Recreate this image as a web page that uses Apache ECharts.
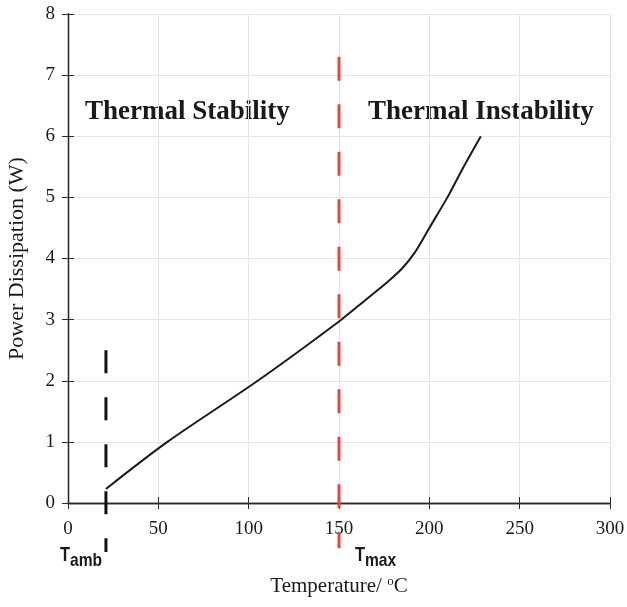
<!DOCTYPE html>
<html>
<head>
<meta charset="utf-8">
<script src="https://cdn.jsdelivr.net/npm/echarts@6/dist/echarts.min.js"></script>
<style>
  html, body { margin: 0; padding: 0; background: #fff; }
  #main { width: 627px; height: 607px; }
</style>
</head>
<body>
<div id="main"></div>
<script>
// power curve
var temperature = [21, 55, 105, 150, 165, 177, 185, 192, 200, 210, 219, 228.5];
var power = [0.23, 1.0, 2.0, 2.97, 3.33, 3.62, 3.84, 4.1, 4.5, 5.0, 5.5, 6.0];
// marker lines (they run past the x axis)
var tAmb = 21, tAmbSpan = [2.5, -0.8];
var tMax = 150, tMaxSpan = [7.3, -0.74];
var xTicks = [0, 50, 100, 150, 200, 250, 300];
var yTicks = [0, 1, 2, 3, 4, 5, 6, 7, 8];

var serif = '"Liberation Serif", "Times New Roman", serif';
var sans = '"Liberation Sans", Arial, sans-serif';
var frame = '#2b2b2b';

var myChart = echarts.init(document.getElementById('main'));

function pts(xs, ys) {
  var out = [];
  for (var i = 0; i < xs.length; i++) out.push([xs[i], ys[i]]);
  return out;
}

var sideAxis = {
  axisLine: { show: true, lineStyle: { color: frame, width: 1.3 } },
  axisTick: { show: true, inside: true, length: 6, lineStyle: { color: frame } },
  axisLabel: { show: false },
  splitLine: { show: false }
};

// T with subscript, squeezed like a narrow font
function tLabel(x, sub) {
  return {
    type: 'text', x: x, y: 545, scaleX: 0.82,
    style: {
      text: '{t|T}{s|' + sub + '}',
      rich: {
        t: { fontFamily: sans, fontWeight: 'bold', fontSize: 20, fill: '#1a1a1a', verticalAlign: 'top' },
        s: { fontFamily: sans, fontWeight: 'bold', fontSize: 19, fill: '#1a1a1a', verticalAlign: 'bottom', padding: [6, 0, 0, 0] }
      }
    }
  };
}

var option = {
  animation: false,
  backgroundColor: '#fff',
  grid: { left: 68, right: 17, top: 14, bottom: 104, outerBoundsMode: 'none' },
  xAxis: [{
    type: 'value', min: 0, max: 300, interval: 50, position: 'bottom',
    name: 'Temperature/ {sup|o}C', nameLocation: 'middle', nameGap: 72,
    nameTextStyle: {
      fontFamily: serif, fontSize: 21, color: '#1a1a1a',
      rich: { sup: { fontFamily: serif, fontSize: 13, color: '#1a1a1a', verticalAlign: 'top', padding: [0, 0, 9, 0] } }
    },
    axisLine: { show: true, lineStyle: { color: frame, width: 1.3 } },
    axisTick: { show: true, inside: true, length: 6, lineStyle: { color: frame } },
    axisLabel: { fontFamily: serif, fontSize: 19, color: '#1a1a1a', margin: 17,
      formatter: function (v) { return xTicks.indexOf(v) >= 0 ? String(v) : ''; } },
    splitLine: { show: true, lineStyle: { color: '#e4e4e4', width: 1 } }
  }, echarts.util.merge({ type: 'value', min: 0, max: 300, interval: 50, position: 'top' }, sideAxis, true)],
  yAxis: [{
    type: 'value', min: 0, max: 8, interval: 1, position: 'left',
    name: 'Power Dissipation (W)', nameLocation: 'middle', nameGap: 40,
    nameTextStyle: { fontFamily: serif, fontSize: 22, color: '#1a1a1a' },
    axisLine: { show: true, lineStyle: { color: frame, width: 1.3 } },
    axisTick: { show: true, inside: true, length: 6, lineStyle: { color: frame } },
    axisLabel: { fontFamily: serif, fontSize: 19, color: '#1a1a1a', margin: 13,
      formatter: function (v) { return yTicks.indexOf(v) >= 0 ? String(v) : ''; } },
    splitLine: { show: true, lineStyle: { color: '#e4e4e4', width: 1 } }
  }, echarts.util.merge({ type: 'value', min: 0, max: 8, interval: 1, position: 'right' }, sideAxis, true)],
  series: [{
    type: 'line',
    data: pts(temperature, power),
    smooth: 0.3,
    symbol: 'none',
    lineStyle: { color: '#1a1a1a', width: 2 },
    z: 5
  }, {
    type: 'line',
    data: [[tMax, tMaxSpan[0]], [tMax, tMaxSpan[1]]],
    symbol: 'none',
    clip: false,
    lineStyle: { color: '#e8463c', width: 3, type: [24, 23.5] },
    z: 6
  }, {
    type: 'line',
    data: [[tAmb, tAmbSpan[0]], [tAmb, tAmbSpan[1]]],
    symbol: 'none',
    clip: false,
    lineStyle: { color: '#111', width: 3, type: [23, 24] },
    z: 6
  }],
  graphic: [{
    type: 'text', left: 85, top: 99,
    style: { text: 'Thermal Stability', font: 'bold 27px ' + serif, fill: '#1a1a1a' }
  }, {
    type: 'text', left: 368, top: 99,
    style: { text: 'Thermal Instability', font: 'bold 27px ' + serif, fill: '#1a1a1a' }
  }, tLabel(60, 'amb'), tLabel(355, 'max')]
};

myChart.setOption(option);
</script>
</body>
</html>
